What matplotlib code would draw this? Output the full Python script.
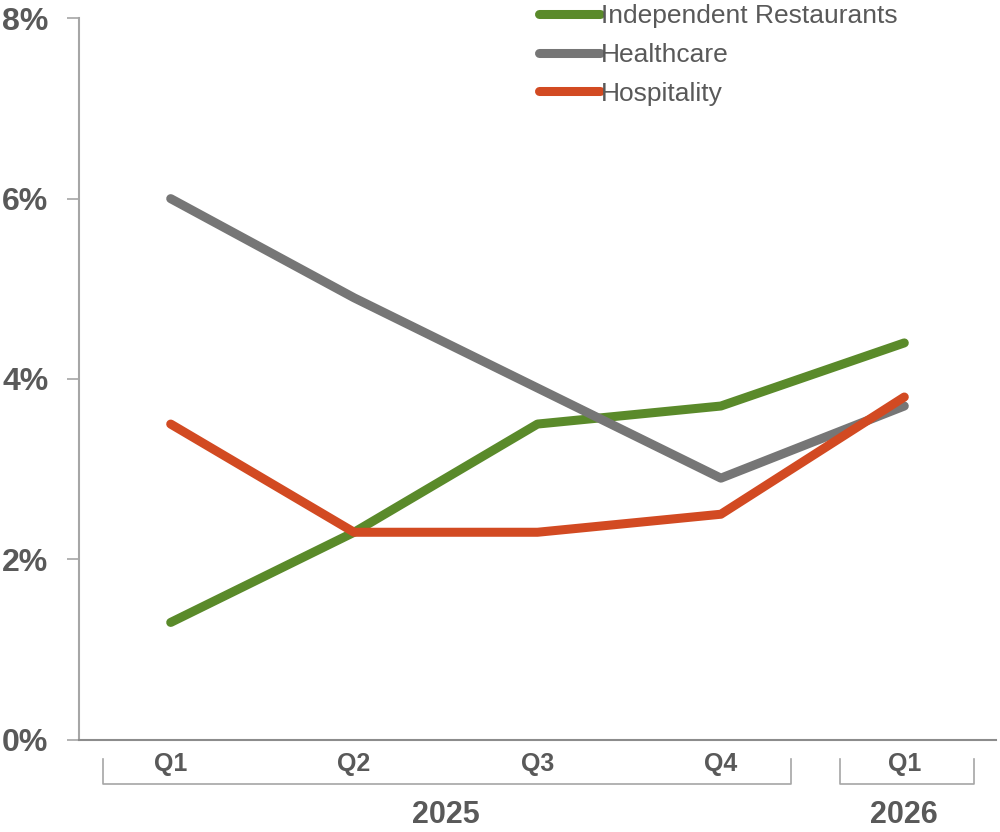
import matplotlib.pyplot as plt
import matplotlib.transforms as mtransforms

quarters = ["Q1", "Q2", "Q3", "Q4", "Q1"]
years = ["2025", "2026"]
restaurants = [1.3, 2.3, 3.5, 3.7, 4.4]
healthcare = [6.0, 4.9, 3.9, 2.9, 3.7]
hospitality = [3.5, 2.3, 2.3, 2.5, 3.8]
yticks = [0, 2, 4, 6, 8]

plt.rcParams['font.family'] = ['Liberation Sans', 'DejaVu Sans']
txt = "#595959"
axcol = "#a6a6a6"

fig = plt.figure(figsize=(10, 8.32), dpi=100)
ax = fig.add_axes([0.079, 0.111, 0.917, 0.867])

x = range(len(quarters))
ax.plot(x, restaurants, color="#5a8a2a", lw=6.5, solid_capstyle="round", solid_joinstyle="round", label="Independent Restaurants")
ax.plot(x, healthcare, color="#767676", lw=6.5, solid_capstyle="round", solid_joinstyle="round", label="Healthcare")
ax.plot(x, hospitality, color="#d24a22", lw=6.5, solid_capstyle="round", solid_joinstyle="round", label="Hospitality")

ax.set_xlim(-0.5, 4.5)
ax.set_ylim(0, 8)
ax.set_yticks(yticks)
ax.set_yticklabels([str(v) + "%" for v in yticks], fontsize=23, fontweight="bold", color=txt)
ax.set_xticks([])
ax.tick_params(axis="y", length=9, width=1.2, color=axcol, pad=13)

for s in ["top", "right"]:
    ax.spines[s].set_visible(False)
ax.spines["left"].set_color(axcol)
ax.spines["left"].set_linewidth(1.5)
ax.spines["bottom"].set_color("#8c8c8c")
ax.spines["bottom"].set_linewidth(1.5)

# category labels under the axis, with brackets per year
trans = mtransforms.blended_transform_factory(ax.transData, ax.transAxes)
for i, q in enumerate(quarters):
    ax.text(i, -0.034, q, transform=trans, ha="center", va="center",
            fontsize=18, fontweight="bold", color=txt)

groups = [(-0.37, 3.38, 1.5), (3.65, 4.38, 4.0)]
for (x0, x1, xc), yr in zip(groups, years):
    ax.plot([x0, x0, x1, x1], [-0.027, -0.062, -0.062, -0.027], transform=trans,
            color=axcol, lw=1.2, clip_on=False)
    ax.text(xc, -0.104, yr, transform=trans, ha="center", va="center",
            fontsize=22, fontweight="bold", color=txt)

leg = ax.legend(loc="upper left", bbox_to_anchor=(0.539, 0.995), bbox_transform=fig.transFigure,
                frameon=False, fontsize=19, handlelength=2.3, handletextpad=0.06,
                labelspacing=0.56, borderpad=0, borderaxespad=0)
for t in leg.get_texts():
    t.set_color(txt)
for l in leg.get_lines():
    l.set_linewidth(6.5)
    l.set_solid_capstyle("round")

fig.savefig("out.png", dpi=100)
